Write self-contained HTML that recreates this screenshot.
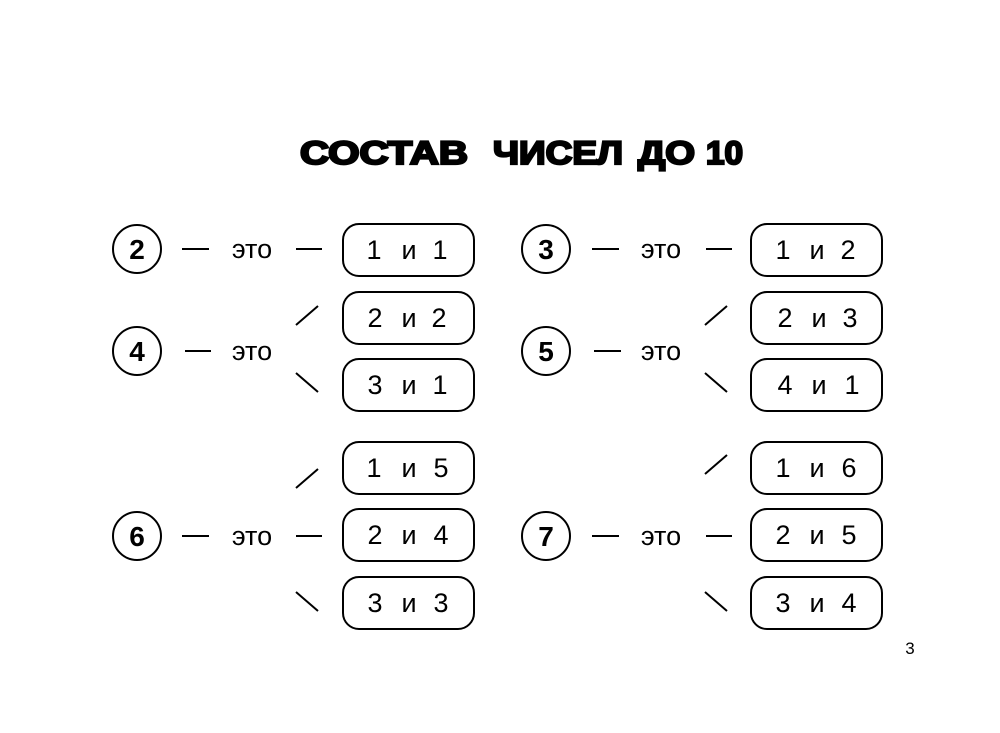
<!DOCTYPE html>
<html><head><meta charset="utf-8"><style>html,body{margin:0;padding:0;background:#fff}svg{display:block}</style></head>
<body>
<svg width="1000" height="733" viewBox="0 0 1000 733" xmlns="http://www.w3.org/2000/svg" font-family="Liberation Sans, DejaVu Sans, sans-serif">
<rect width="1000" height="733" fill="#fff"/>
<g font-size="32" font-weight="bold" stroke="#000" stroke-width="2.2">
<text x="300" y="164" textLength="168" lengthAdjust="spacingAndGlyphs">СОСТАВ</text>
<text x="493" y="164" textLength="130" lengthAdjust="spacingAndGlyphs">ЧИСЕЛ</text>
<text x="638" y="164" textLength="57" lengthAdjust="spacingAndGlyphs">ДО</text>
<text x="706" y="164" textLength="37" lengthAdjust="spacingAndGlyphs">10</text>
</g>
<g fill="none" stroke="#000" stroke-width="2">
<circle cx="137" cy="249" r="24"/><circle cx="137" cy="351" r="24"/><circle cx="137" cy="536" r="24"/>
<circle cx="546" cy="249" r="24"/><circle cx="546" cy="351" r="24"/><circle cx="546" cy="536" r="24"/>
<rect x="343" y="224" width="131" height="52" rx="16"/>
<rect x="343" y="292" width="131" height="52" rx="16"/>
<rect x="343" y="359" width="131" height="52" rx="16"/>
<rect x="343" y="442" width="131" height="52" rx="16"/>
<rect x="343" y="509" width="131" height="52" rx="16"/>
<rect x="343" y="577" width="131" height="52" rx="16"/>
<rect x="751" y="224" width="131" height="52" rx="16"/>
<rect x="751" y="292" width="131" height="52" rx="16"/>
<rect x="751" y="359" width="131" height="52" rx="16"/>
<rect x="751" y="442" width="131" height="52" rx="16"/>
<rect x="751" y="509" width="131" height="52" rx="16"/>
<rect x="751" y="577" width="131" height="52" rx="16"/>
<path d="M182 249H209M296 249H322M185 351H211M182 536H209M296 536H322"/>
<path d="M296 325L318 306M296 373L318 392M296 488L318 469M296 592L318 611"/>
<path d="M592 249H619M706 249H732M594 351H621M592 536H619M706 536H732"/>
<path d="M705 325L727 306M705 373L727 392M705 474L727 455M705 592L727 611"/>
</g>
<g font-size="28" text-anchor="middle" font-weight="bold">
<text x="137" y="259">2</text><text x="137" y="361">4</text><text x="137" y="546">6</text>
<text x="546" y="259">3</text><text x="546" y="361">5</text><text x="546" y="546">7</text>
</g>
<g font-size="27" text-anchor="middle">
<text x="252" y="258">это</text><text x="252" y="360">это</text><text x="252" y="545">это</text>
<text x="661" y="258">это</text><text x="661" y="360">это</text><text x="661" y="545">это</text>
</g>
<g font-size="27" text-anchor="middle">
<text x="374" y="259">1</text><text x="409" y="259">и</text><text x="440" y="259">1</text>
<text x="375" y="327">2</text><text x="409" y="327">и</text><text x="439" y="327">2</text>
<text x="375" y="394">3</text><text x="409" y="394">и</text><text x="440" y="394">1</text>
<text x="374" y="477">1</text><text x="409" y="477">и</text><text x="441" y="477">5</text>
<text x="375" y="544">2</text><text x="409" y="544">и</text><text x="441" y="544">4</text>
<text x="375" y="612">3</text><text x="409" y="612">и</text><text x="441" y="612">3</text>
<text x="783" y="259">1</text><text x="817" y="259">и</text><text x="848" y="259">2</text>
<text x="785" y="327">2</text><text x="819" y="327">и</text><text x="850" y="327">3</text>
<text x="785" y="394">4</text><text x="819" y="394">и</text><text x="852" y="394">1</text>
<text x="783" y="477">1</text><text x="817" y="477">и</text><text x="849" y="477">6</text>
<text x="783" y="544">2</text><text x="817" y="544">и</text><text x="849" y="544">5</text>
<text x="783" y="612">3</text><text x="817" y="612">и</text><text x="849" y="612">4</text>
</g>
<text x="910" y="654" font-size="17" text-anchor="middle">3</text>
</svg>
</body></html>
